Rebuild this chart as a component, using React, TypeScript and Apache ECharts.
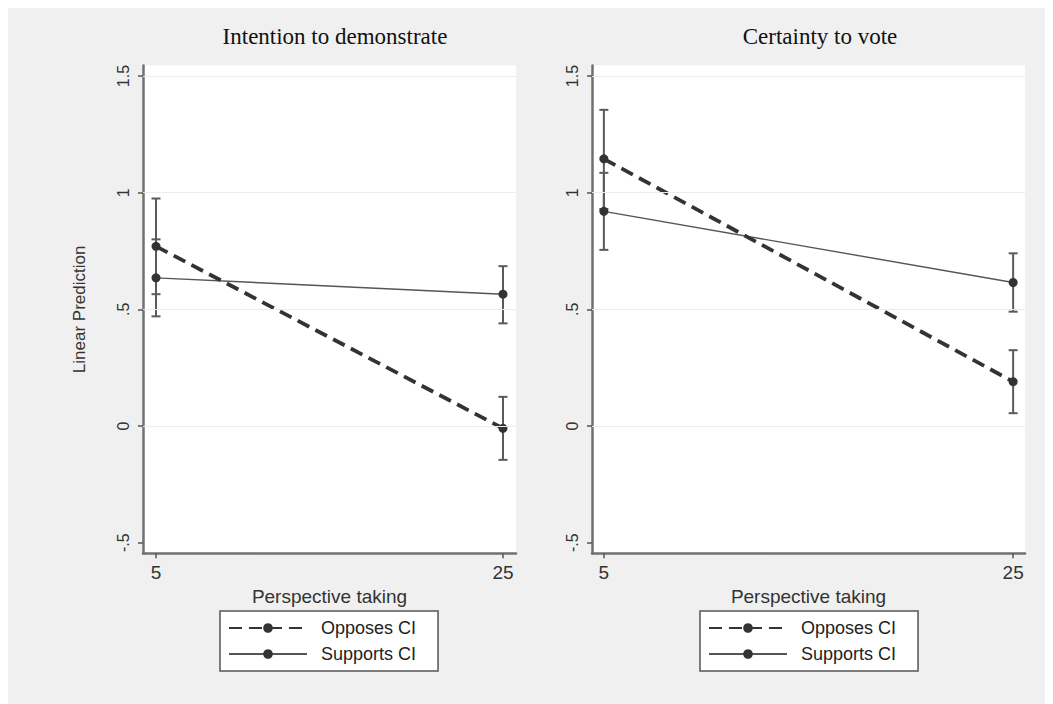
import React, { useEffect, useRef } from "react";
import * as echarts from "echarts";

const panelTitles = ["Intention to demonstrate", "Certainty to vote"];
const groups = ["Opposes CI", "Supports CI"];
const xLevels = [5, 25];
const yTicks = [-0.5, 0, 0.5, 1, 1.5];
const yTickLabels = ["-.5", "0", ".5", "1", "1.5"];
const gridValues = [0, 0.5, 1, 1.5];
const xTitle = "Perspective taking";
const yTitle = "Linear Prediction";

// Intention to demonstrate
const demoOpposes = [0.77, -0.01];
const demoOpposesLow = [0.565, -0.145];
const demoOpposesHigh = [0.975, 0.125];
const demoSupports = [0.635, 0.565];
const demoSupportsLow = [0.47, 0.44];
const demoSupportsHigh = [0.8, 0.685];

// Certainty to vote
const voteOpposes = [1.145, 0.19];
const voteOpposesLow = [0.93, 0.055];
const voteOpposesHigh = [1.355, 0.325];
const voteSupports = [0.92, 0.615];
const voteSupportsLow = [0.755, 0.49];
const voteSupportsHigh = [1.085, 0.74];

const panels = [
  {
    opposes: demoOpposes, opposesLow: demoOpposesLow, opposesHigh: demoOpposesHigh,
    supports: demoSupports, supportsLow: demoSupportsLow, supportsHigh: demoSupportsHigh,
  },
  {
    opposes: voteOpposes, opposesLow: voteOpposesLow, opposesHigh: voteOpposesHigh,
    supports: voteSupports, supportsLow: voteSupportsLow, supportsHigh: voteSupportsHigh,
  },
];

const gridBoxes = [
  { left: 135, top: 57.5, width: 373, height: 487.7, xMin: 4.25, xMax: 25.75 },
  { left: 584, top: 57.5, width: 433, height: 487.7, xMin: 4.42, xMax: 25.58 },
];
const legendLeft = [212, 692];
const titleCenter = [327, 812];

const AXIS_COLOR = "#707070";
const INK = "#333";

function errorBarRender(params: any, api: any) {
  const x = api.value(0);
  const lo = api.coord([x, api.value(1)]);
  const hi = api.coord([x, api.value(2)]);
  const cap = 4.5;
  const style = { stroke: "#5a5a5a", lineWidth: 2 };
  return {
    type: "group",
    children: [
      { type: "line", shape: { x1: lo[0], y1: lo[1], x2: hi[0], y2: hi[1] }, style },
      { type: "line", shape: { x1: lo[0] - cap, y1: lo[1], x2: lo[0] + cap, y2: lo[1] }, style },
      { type: "line", shape: { x1: hi[0] - cap, y1: hi[1], x2: hi[0] + cap, y2: hi[1] }, style },
    ],
  };
}

function buildOption() {
  const grid = gridBoxes.map((g) => ({
    left: g.left, top: g.top, width: g.width, height: g.height,
    show: true, backgroundColor: "#ffffff", borderWidth: 0,
  }));

  const xAxis = gridBoxes.map((g, i) => ({
    type: "value", gridIndex: i, min: g.xMin, max: g.xMax,
    axisLine: { show: true, onZero: false, lineStyle: { color: AXIS_COLOR, width: 2.5 } },
    axisTick: { show: true, customValues: xLevels, length: 5, lineStyle: { color: "#555", width: 1.5 } },
    axisLabel: { customValues: xLevels, fontSize: 19, color: INK, margin: 10 },
    splitLine: { show: false },
    name: xTitle, nameLocation: "middle", nameGap: 31,
    nameTextStyle: { fontSize: 19, color: INK },
  }));

  const yAxis = gridBoxes.map((g, i) => ({
    type: "value", gridIndex: i, min: -0.545, max: 1.545,
    axisLine: { show: true, onZero: false, lineStyle: { color: AXIS_COLOR, width: 2.5 } },
    axisTick: { show: true, customValues: yTicks, length: 5, lineStyle: { color: "#555", width: 1.5 } },
    axisLabel: {
      customValues: yTicks, rotate: 90, fontSize: 16, color: INK, margin: 12,
      formatter: (v: number) => {
        const k = yTicks.findIndex((t) => Math.abs(t - v) < 1e-6);
        return k >= 0 ? yTickLabels[k] : "";
      },
    },
    splitLine: { show: false },
    name: i === 0 ? yTitle : "", nameLocation: "middle", nameGap: 55,
    nameTextStyle: { fontSize: 17, color: INK },
  }));

  const series: any[] = [];
  panels.forEach((p, i) => {
    series.push({
      type: "line", name: "grid-lines", xAxisIndex: i, yAxisIndex: i, data: [], z: 1,
      markLine: {
        silent: true, symbol: "none", label: { show: false },
        lineStyle: { color: "#ececec", width: 1.2, type: "solid" },
        data: gridValues.map((v) => ({ yAxis: v })),
      },
    });
    series.push({
      type: "custom", name: "Opposes CI bars", xAxisIndex: i, yAxisIndex: i, z: 2,
      renderItem: errorBarRender, encode: { x: 0, y: [1, 2] },
      data: xLevels.map((x, k) => [x, p.opposesLow[k], p.opposesHigh[k]]),
    });
    series.push({
      type: "custom", name: "Supports CI bars", xAxisIndex: i, yAxisIndex: i, z: 2,
      renderItem: errorBarRender, encode: { x: 0, y: [1, 2] },
      data: xLevels.map((x, k) => [x, p.supportsLow[k], p.supportsHigh[k]]),
    });
    series.push({
      type: "line", name: groups[1], xAxisIndex: i, yAxisIndex: i, z: 3,
      data: xLevels.map((x, k) => [x, p.supports[k]]),
      symbol: "circle", symbolSize: 9,
      lineStyle: { color: "#555", width: 1.4, type: "solid" },
      itemStyle: { color: INK },
    });
    series.push({
      type: "line", name: groups[0], xAxisIndex: i, yAxisIndex: i, z: 4,
      data: xLevels.map((x, k) => [x, p.opposes[k]]),
      symbol: "circle", symbolSize: 9,
      lineStyle: { color: "#333", width: 3.8, type: [13, 7] },
      itemStyle: { color: INK },
    });
  });

  const legend = legendLeft.map((left) => ({
    orient: "vertical", left, top: 603, data: groups,
    itemWidth: 78, itemHeight: 12, itemGap: 8,
    padding: [8, 22, 8, 8],
    backgroundColor: "#ffffff", borderColor: "#555", borderWidth: 1.5,
    textStyle: { fontSize: 18, color: "#222", padding: [0, 0, 0, 9] },
    selectedMode: false,
  }));

  const graphic = panelTitles.map((t, i) => ({
    type: "text", x: titleCenter[i], y: 28,
    style: {
      text: t, fill: "#111", font: "23px 'Liberation Serif'",
      textAlign: "center", textVerticalAlign: "middle",
    },
  }));

  return {
    animation: false,
    backgroundColor: "#f0f0f0",
    textStyle: { fontFamily: "'Liberation Sans', Arial, sans-serif" },
    grid, xAxis, yAxis, series, legend, graphic,
  };
}

export default function App() {
  const ref = useRef<HTMLDivElement>(null);
  useEffect(() => {
    if (!ref.current) return;
    const chart = echarts.init(ref.current, undefined, { renderer: "svg" });
    chart.setOption(buildOption() as any);
    return () => chart.dispose();
  }, []);
  return <div ref={ref} style={{ width: 1045, height: 696 }} />;
}
